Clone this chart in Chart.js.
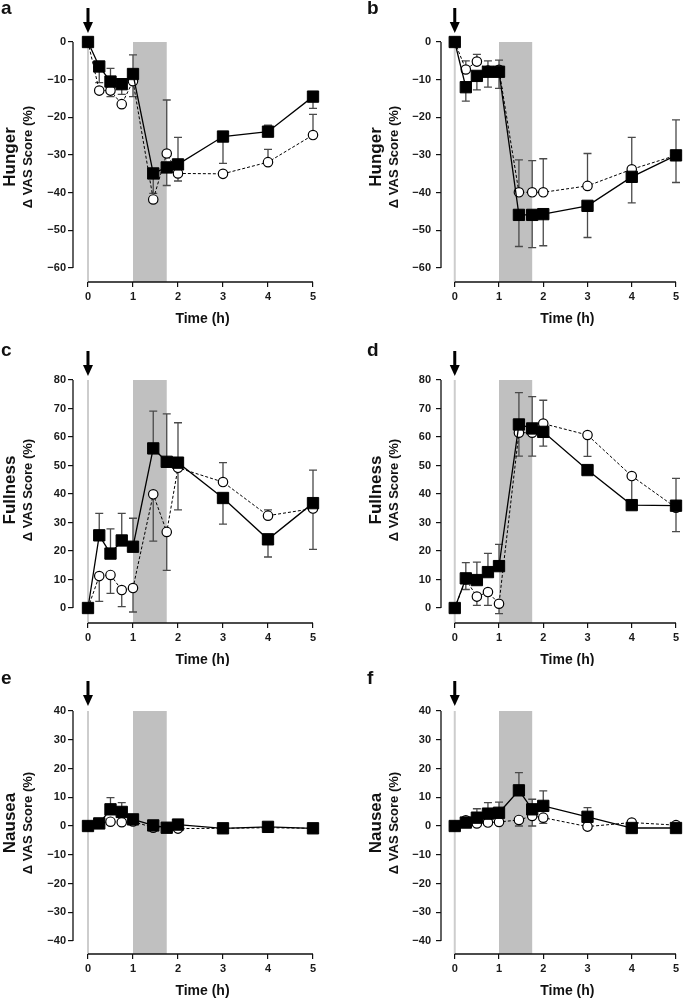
<!DOCTYPE html>
<html lang="en">
<head>
  <meta charset="UTF-8">
  <title>VAS Scores</title>
  <script src="https://cdn.jsdelivr.net/npm/chart.js"></script>
  <style>
    body { margin: 0; background: white; }
    #grid { position: relative; width: 685px; height: 998px; }
    #grid canvas { position: absolute; }
  </style>
</head>
<body>
  <div id="grid">
    <canvas id="pa" width="342" height="333" style="left:0;top:0"></canvas>
    <canvas id="pb" width="343" height="333" style="left:342px;top:0"></canvas>
    <canvas id="pc" width="342" height="333" style="left:0;top:333px"></canvas>
    <canvas id="pd" width="343" height="333" style="left:342px;top:333px"></canvas>
    <canvas id="pe" width="342" height="332" style="left:0;top:666px"></canvas>
    <canvas id="pf" width="343" height="332" style="left:342px;top:666px"></canvas>
  </div>

  <script type="text/javascript">
    // time points (h)
    const times = [0, 0.25, 0.5, 0.75, 1, 1.45, 1.75, 2, 3, 4, 5];
    const xTicks = [0, 1, 2, 3, 4, 5];
    const mealWindow = [1, 1.75];
    const doseTime = 0;

    const hungerTicks = [-60, -50, -40, -30, -20, -10, 0];
    const fullnessTicks = [0, 10, 20, 30, 40, 50, 60, 70, 80];
    const nauseaTicks = [-40, -30, -20, -10, 0, 10, 20, 30, 40];

    // filled squares (solid line) / open circles (dashed line)
    // error values: positive = bar drawn up, negative = bar drawn down
    const hungerA_sq    = [0, -6.5, -10.5, -11.2, -8.5, -34.9, -33.3, -32.5, -25.1, -23.8, -14.5];
    const hungerA_sqErr = [0, -4.3, 3.5, -2.7, 5.1, -5.3, -4.8, 7.2, -7.1, 1.7, -3.1];
    const hungerA_ci    = [0, -12.9, -12.9, -16.5, -10.4, -41.8, -29.6, -34.9, -35.0, -31.9, -24.7];
    const hungerA_ciErr = [0, 0, -1.6, 0, -4.1, 0, 14.2, -2.0, 0, 3.4, 5.5];

    const hungerB_sq    = [0, -12.0, -9.0, -7.9, -7.9, -45.9, -45.9, -45.7, -43.5, -35.8, -30.1];
    const hungerB_sqErr = [0, -3.7, -3.7, -4.1, -4.4, -8.4, -8.7, -8.4, -8.4, -6.9, -7.2];
    const hungerB_ci    = [0, -7.3, -5.2, -7.6, -7.4, -39.9, -39.9, -39.9, -38.2, -33.8, -30.1];
    const hungerB_ciErr = [0, 2.3, 1.9, 2.6, 2.6, 8.6, 8.4, 8.9, 8.6, 8.5, 9.4];

    const fullC_sq    = [0, 25.5, 19.1, 23.7, 21.5, 56.0, 51.3, 51.0, 38.6, 24.1, 36.8];
    const fullC_sqErr = [0, 7.7, 8.7, 9.5, 10.0, 13.1, 16.8, 14.0, -9.2, -6.2, 11.6];
    const fullC_ci    = [0, 11.2, 11.6, 6.3, 7.0, 39.9, 26.7, 49.2, 44.2, 32.4, 34.9];
    const fullC_ciErr = [0, -8.9, -6.5, -5.8, -8.4, -16.4, -13.5, -14.8, 6.8, 2.0, -14.3];

    const fullD_sq    = [0, 10.4, 9.8, 12.6, 14.7, 64.4, 63.0, 61.8, 48.4, 36.1, 35.9];
    const fullD_sqErr = [0, 5.5, 6.3, 6.6, 7.6, 11.2, 11.2, -5.0, 0, 10.2, 9.6];
    const fullD_ci    = [0, 10.0, 4.0, 5.6, 1.5, 61.5, 61.5, 64.7, 60.7, 46.3, 35.2];
    const fullD_ciErr = [0, -3.5, -3.1, -4.7, -3.5, -8.2, -8.2, 8.2, -7.5, 0, -8.4];

    const nauE_sq    = [0, 0.9, 5.8, 4.9, 2.3, 0.2, -0.6, 0.5, -0.8, -0.3, -0.8];
    const nauE_sqErr = [0, 0, 4.1, 3.2, 0.8, 0, 0, 0, 0, 0, 0];
    const nauE_ci    = [0, 0.9, 1.5, 1.3, 1.6, -0.6, -0.6, -0.9, -0.8, -0.6, -0.8];
    const nauE_ciErr = [0, 0, 0, 0, 0, 0, 0, 0, 0, 0, 0];

    const nauF_sq    = [0, 1.2, 2.9, 4.3, 4.6, 12.4, 5.8, 7.0, 3.2, -0.7, -0.7];
    const nauF_sqErr = [0, 0, 3.1, 3.8, 3.7, 6.2, 3.5, 5.2, 3.2, 0, 0];
    const nauF_ci    = [0, 2.0, 0.9, 1.2, 1.4, 2.1, 3.5, 2.9, -0.2, 1.2, 0.3];
    const nauF_ciErr = [0, 0, 0, 0, 0, -2.1, -3.5, -2.0, 0, 0, 0];

    const FONT = '"Liberation Sans", Arial, Helvetica, sans-serif';

    // layout per column / row
    const cols = {
      left:  { yW: 73, xMin: -0.333, right: 29, yPad: 2, lx: 1, t1: 10, t2: 28 },
      right: { yW: 99, xMin: -0.311, right: 5,  yPad: 5, lx: 25, t1: 34, t2: 52 }
    };
    const rows = {
      hunger:   { top: 42, xH: 51, yMin: -63.72, yMax: 0,  ly: 14, tip: 33 },
      fullness: { top: 47, xH: 43, yMin: -5.26,  yMax: 80, ly: 23, tip: 43 },
      nausea:   { top: 45, xH: 44, yMin: -44.52, yMax: 40, ly: 18, tip: 40 }
    };

    function minusFmt(v) {
      return v < 0 ? '\u2212' + Math.abs(v) : '' + v;
    }

    function pts(arr) {
      return arr.map((v, i) => ({ x: times[i], y: v }));
    }

    function makePanel(id, letter, word, yTicks, col, row, sq, sqErr, ci, ciErr) {
      const decor = {
        id: 'decor',
        beforeDatasetsDraw(chart) {
          const { ctx, chartArea: area, scales: { x, y } } = chart;
          const yTop = y.getPixelForValue(yTicks[yTicks.length - 1]);
          ctx.save();
          const m1 = x.getPixelForValue(mealWindow[0]);
          const m2 = x.getPixelForValue(mealWindow[1]);
          ctx.fillStyle = '#c0c0c0';
          ctx.fillRect(m1, yTop, m2 - m1, area.bottom - yTop);

          const x0 = x.getPixelForValue(doseTime);
          ctx.strokeStyle = '#cdcdcd';
          ctx.lineWidth = 2;
          ctx.beginPath();
          ctx.moveTo(x0, yTop);
          ctx.lineTo(x0, area.bottom);
          ctx.stroke();

          // error bars
          chart.data.datasets.forEach(ds => {
            ds.errs.forEach((e, i) => {
              if (!e) return;
              const px = x.getPixelForValue(times[i]);
              const py0 = y.getPixelForValue(ds.data[i].y);
              const py1 = y.getPixelForValue(ds.data[i].y + e);
              ctx.strokeStyle = '#4a4a4a';
              ctx.lineWidth = 1.3;
              ctx.beginPath();
              ctx.moveTo(px, py0);
              ctx.lineTo(px, py1);
              ctx.moveTo(px - 4, py1);
              ctx.lineTo(px + 4, py1);
              ctx.stroke();
            });
          });
          ctx.restore();
        },
        afterDraw(chart) {
          const { ctx, chartArea: area, scales: { x, y } } = chart;
          ctx.save();
          // axis lines
          ctx.strokeStyle = '#111';
          ctx.lineWidth = 1.3;
          ctx.beginPath();
          ctx.moveTo(area.left, y.getPixelForValue(yTicks[0]));
          ctx.lineTo(area.left, y.getPixelForValue(yTicks[yTicks.length - 1]));
          ctx.moveTo(x.getPixelForValue(xTicks[0]), area.bottom);
          ctx.lineTo(x.getPixelForValue(xTicks[xTicks.length - 1]), area.bottom);
          ctx.stroke();

          // dosing arrow
          const ax = x.getPixelForValue(doseTime);
          ctx.fillStyle = '#000';
          ctx.fillRect(ax - 1.5, row.tip - 25, 3, 15);
          ctx.beginPath();
          ctx.moveTo(ax - 5, row.tip - 11);
          ctx.lineTo(ax + 5, row.tip - 11);
          ctx.lineTo(ax, row.tip);
          ctx.closePath();
          ctx.fill();

          // titles
          ctx.fillStyle = '#111';
          ctx.textAlign = 'center';
          ctx.textBaseline = 'middle';
          ctx.font = 'bold 14px ' + FONT;
          ctx.fillText('Time (h)', x.getPixelForValue(2.5) + 2, area.bottom + 37);

          ctx.save();
          ctx.translate(col.t1, 157);
          ctx.rotate(-Math.PI / 2);
          ctx.font = 'bold 17px ' + FONT;
          ctx.fillText(word, 0, 0);
          ctx.restore();
          ctx.save();
          ctx.translate(col.t2, 157);
          ctx.rotate(-Math.PI / 2);
          ctx.font = 'bold 13px ' + FONT;
          ctx.fillText('\u0394 VAS Score (%)', 0, 0);
          ctx.restore();

          ctx.textAlign = 'left';
          ctx.textBaseline = 'alphabetic';
          ctx.font = 'bold 19px ' + FONT;
          ctx.fillText(letter, col.lx, row.ly);
          ctx.restore();
        }
      };

      const tickFont = { family: FONT, size: 11, weight: 'bold' };

      return new Chart(document.getElementById(id), {
        type: 'line',
        data: {
          datasets: [
            {
              data: pts(sq),
              errs: sqErr,
              borderColor: '#000',
              borderWidth: 1.3,
              pointStyle: 'rect',
              pointRadius: 8,
              pointBackgroundColor: '#000',
              pointBorderColor: '#000',
              pointBorderWidth: 1,
              tension: 0,
              clip: false
            },
            {
              data: pts(ci),
              errs: ciErr,
              borderColor: '#000',
              borderWidth: 1,
              borderDash: [3, 2],
              pointStyle: 'circle',
              pointRadius: 4.7,
              pointBackgroundColor: '#fff',
              pointBorderColor: '#000',
              pointBorderWidth: 1.2,
              tension: 0,
              clip: false
            }
          ]
        },
        options: {
          responsive: false,
          animation: false,
          events: [],
          layout: { padding: { top: row.top, right: col.right, left: 0, bottom: 0 } },
          plugins: { legend: { display: false }, tooltip: { enabled: false } },
          scales: {
            x: {
              type: 'linear',
              min: col.xMin,
              max: 5,
              afterBuildTicks: s => { s.ticks = xTicks.map(v => ({ value: v })); },
              afterFit: s => { s.height = row.xH; },
              border: { display: false },
              grid: { drawOnChartArea: false, tickLength: 5, color: '#111', lineWidth: 1.2 },
              ticks: { font: tickFont, color: '#1a1a1a', padding: 3, maxRotation: 0, autoSkip: false }
            },
            y: {
              min: row.yMin,
              max: row.yMax,
              afterBuildTicks: s => { s.ticks = yTicks.map(v => ({ value: v })); },
              afterFit: s => { s.width = col.yW; },
              border: { display: false },
              grid: { drawOnChartArea: false, tickLength: 5, color: '#111', lineWidth: 1.2 },
              ticks: { font: tickFont, color: '#1a1a1a', padding: col.yPad, autoSkip: false, callback: minusFmt }
            }
          }
        },
        plugins: [decor]
      });
    }

    makePanel('pa', 'a', 'Hunger', hungerTicks, cols.left, rows.hunger, hungerA_sq, hungerA_sqErr, hungerA_ci, hungerA_ciErr);
    makePanel('pb', 'b', 'Hunger', hungerTicks, cols.right, rows.hunger, hungerB_sq, hungerB_sqErr, hungerB_ci, hungerB_ciErr);
    makePanel('pc', 'c', 'Fullness', fullnessTicks, cols.left, rows.fullness, fullC_sq, fullC_sqErr, fullC_ci, fullC_ciErr);
    makePanel('pd', 'd', 'Fullness', fullnessTicks, cols.right, rows.fullness, fullD_sq, fullD_sqErr, fullD_ci, fullD_ciErr);
    makePanel('pe', 'e', 'Nausea', nauseaTicks, cols.left, rows.nausea, nauE_sq, nauE_sqErr, nauE_ci, nauE_ciErr);
    makePanel('pf', 'f', 'Nausea', nauseaTicks, cols.right, rows.nausea, nauF_sq, nauF_sqErr, nauF_ci, nauF_ciErr);
  </script>
</body>
</html>
